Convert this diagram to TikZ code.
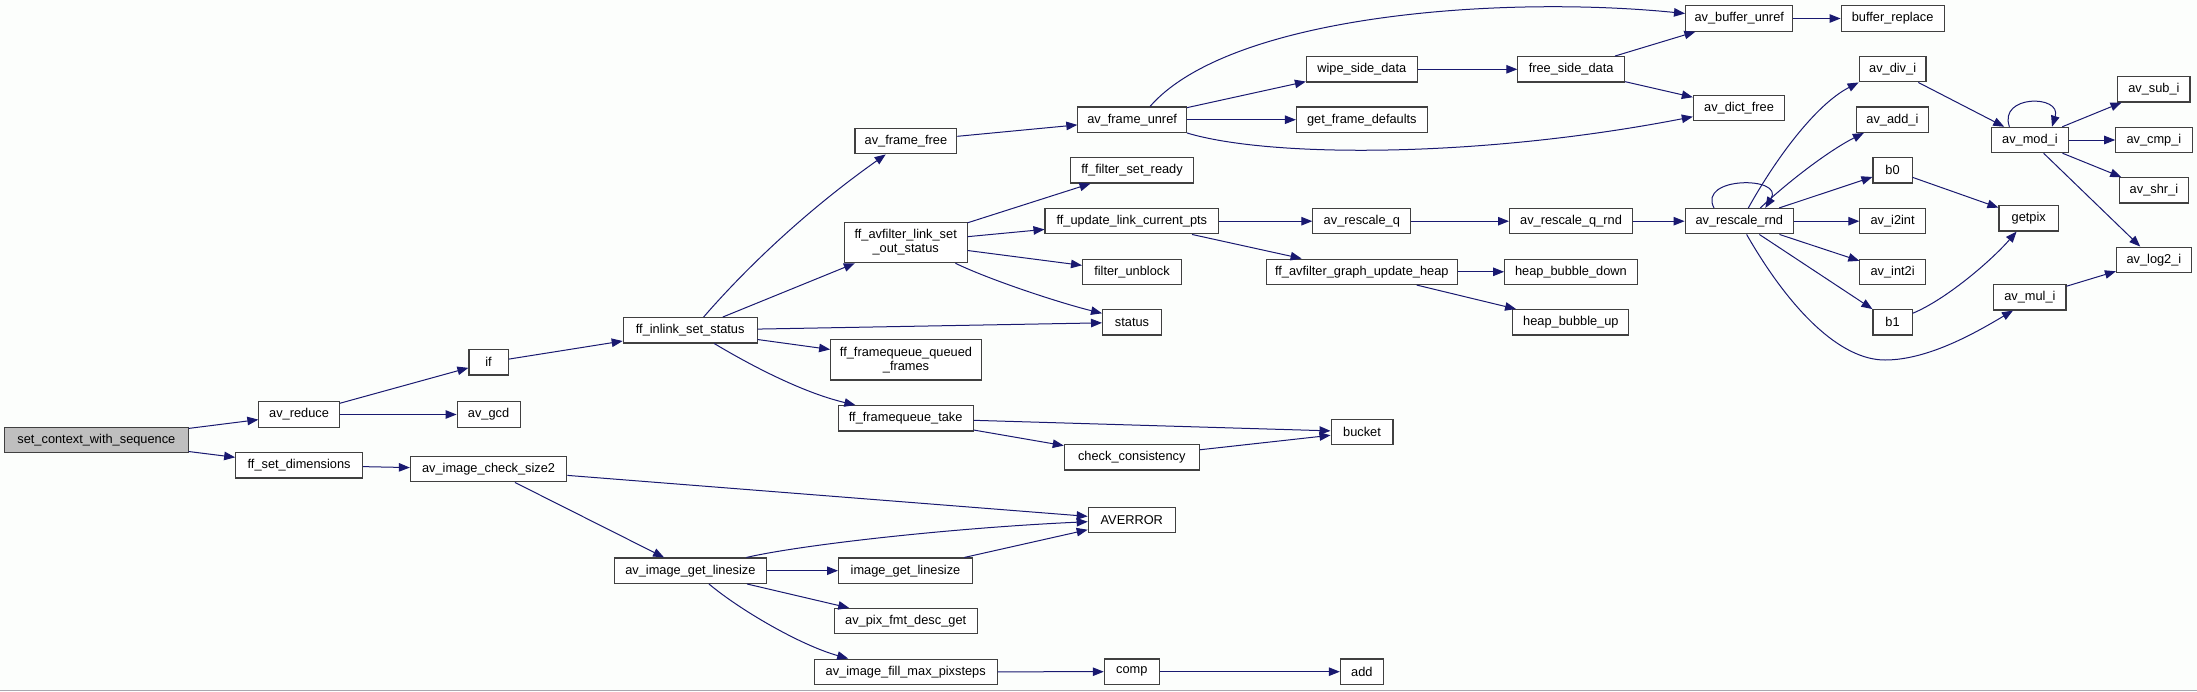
\documentclass[tikz,border=0pt]{standalone}
\usepackage{fontspec}
\newfontfamily\fnt{Liberation Sans}
\usetikzlibrary{arrows.meta}
\definecolor{edgec}{HTML}{191970}
\definecolor{nodeb}{HTML}{404040}
\definecolor{rootf}{HTML}{BFBFBF}
\definecolor{bgc}{HTML}{FCFEFC}
\definecolor{linec}{HTML}{A8A8B0}
\begin{document}
\begin{tikzpicture}[x=1pt,y=-1pt,
  fn/.style={draw=nodeb, line width=1.1pt, fill=white, inner sep=0pt, minimum height=25.4pt, align=center, font=\fnt\fontsize{12.8}{14}\selectfont},
  edge/.style={draw=edgec, line width=1pt, -{Triangle[length=11pt,width=8.5pt]}, shorten >=0pt}]
\useasboundingbox (0,0) rectangle (2197,691);
\fill[bgc] (0,0) rectangle (2197,691);
\draw[linec, line width=1.2pt] (0,690.4) -- (2197,690.4);

% nodes
\node[fn, fill=rootf, minimum width=183.6pt] (root) at (96.4,440) {set\_context\_with\_sequence};
\node[fn, minimum width=80.4pt] (avreduce) at (299.1,414.5) {av\_reduce};
\node[fn, minimum width=39.3pt] (if) at (488.6,362.3) {if};
\node[fn, minimum width=62.9pt] (avgcd) at (488.6,414.5) {av\_gcd};
\node[fn, minimum width=126.8pt] (ffsetdim) at (299.1,465.3) {ff\_set\_dimensions};
\node[fn, minimum width=156.4pt] (chk2) at (488.6,469.2) {av\_image\_check\_size2};
\node[fn, minimum width=133.9pt] (inlink) at (690.2,330.3) {ff\_inlink\_set\_status};
\node[fn, minimum width=101.8pt] (framefree) at (905.9,141.2) {av\_frame\_free};
\node[fn, minimum width=122.8pt, minimum height=40.4pt] (linkset) at (905.7,242.5) {ff\_avfilter\_link\_set\\\_out\_status};
\node[fn, minimum width=108.5pt] (frameunref) at (1132.1,119.7) {av\_frame\_unref};
\node[fn, minimum width=122.5pt] (setready) at (1132,170.3) {ff\_filter\_set\_ready};
\node[fn, minimum width=173.6pt] (updpts) at (1131.8,221.2) {ff\_update\_link\_current\_pts};
\node[fn, minimum width=98.9pt] (unblock) at (1132,271.8) {filter\_unblock};
\node[fn, minimum width=58.9pt] (status) at (1132,322.3) {status};
\node[fn, minimum width=150.7pt, minimum height=40.3pt] (queued) at (906,359.8) {ff\_framequeue\_queued\\\_frames};
\node[fn, minimum width=135pt] (take) at (905.7,418.3) {ff\_framequeue\_take};
\node[fn, minimum width=135pt] (consist) at (1131.8,457.3) {check\_consistency};
\node[fn, minimum width=87.2pt] (averror) at (1131.8,519.8) {AVERROR};
\node[fn, minimum width=152.1pt] (getls) at (690.4,570.7) {av\_image\_get\_linesize};
\node[fn, minimum width=133.9pt] (imgls) at (905.5,570.7) {image\_get\_linesize};
\node[fn, minimum width=142.8pt] (pixfmt) at (905.7,621.2) {av\_pix\_fmt\_desc\_get};
\node[fn, minimum width=182.8pt] (fillmax) at (905.7,671.8) {av\_image\_fill\_max\_pixsteps};
\node[fn, minimum width=55pt] (comp) at (1131.8,671.7) {comp};
\node[fn, minimum width=42.8pt] (add) at (1361.8,671.7) {add};
\node[fn, minimum width=61.9pt] (bucket) at (1362,431.8) {bucket};
\node[fn, minimum width=110.7pt] (wipe) at (1361.8,69.3) {wipe\_side\_data};
\node[fn, minimum width=130.7pt] (getdef) at (1361.8,119.7) {get\_frame\_defaults};
\node[fn, minimum width=106.4pt] (freeside) at (1571.1,69.3) {free\_side\_data};
\node[fn, minimum width=97.8pt] (rescaleq) at (1361.8,221.2) {av\_rescale\_q};
\node[fn, minimum width=122.9pt] (rescaleqrnd) at (1571,221.2) {av\_rescale\_q\_rnd};
\node[fn, minimum width=190.7pt] (heap) at (1361.8,271.8) {ff\_avfilter\_graph\_update\_heap};
\node[fn, minimum width=132.5pt] (hdown) at (1570.9,271.8) {heap\_bubble\_down};
\node[fn, minimum width=116pt] (hup) at (1570.9,322.3) {heap\_bubble\_up};
\node[fn, minimum width=107.3pt] (bufunref) at (1739.2,18.5) {av\_buffer\_unref};
\node[fn, minimum width=103pt] (bufrep) at (1892.6,18.5) {buffer\_replace};
\node[fn, minimum width=91.3pt] (dictfree) at (1739,107.8) {av\_dict\_free};
\node[fn, minimum width=66.8pt] (divi) at (1892.6,69.2) {av\_div\_i};
\node[fn, minimum width=72.2pt] (addi) at (1892.4,119.7) {av\_add\_i};
\node[fn, minimum width=39.1pt] (bzero) at (1892.5,170.3) {b0};
\node[fn, minimum width=65.4pt] (i2int) at (1892.6,221.2) {av\_i2int};
\node[fn, minimum width=65.4pt] (int2i) at (1892.6,271.8) {av\_int2i};
\node[fn, minimum width=39.1pt] (bone) at (1892.5,322.3) {b1};
\node[fn, minimum width=108.4pt] (rescalernd) at (1739.3,221.2) {av\_rescale\_rnd};
\node[fn, minimum width=76.4pt] (modi) at (2029.9,140) {av\_mod\_i};
\node[fn, minimum width=59.5pt] (getpix) at (2028.7,218.3) {getpix};
\node[fn, minimum width=72.1pt] (muli) at (2029.9,297.3) {av\_mul\_i};
\node[fn, minimum width=72.1pt] (subi) at (2153.9,89.3) {av\_sub\_i};
\node[fn, minimum width=76.3pt] (cmpi) at (2153.9,140) {av\_cmp\_i};
\node[fn, minimum width=69.3pt] (shri) at (2153.9,190.3) {av\_shr\_i};
\node[fn, minimum width=74.9pt] (log2i) at (2153.9,259.8) {av\_log2\_i};

% edges
\draw[edge] (root) -- (avreduce);
\draw[edge] (root) -- (ffsetdim);
\draw[edge] (avreduce) -- (if);
\draw[edge] (avreduce) -- (avgcd);
\draw[edge] (if) -- (inlink);
\draw[edge] ([xshift=13.4pt]inlink.north) .. controls (740,275) and (800,215) .. ([xshift=-20.2pt]framefree.south);
\draw[edge] (inlink) -- (linkset);
\draw[edge] (inlink) -- (status);
\draw[edge] (inlink) -- (queued);
\draw[edge] ([xshift=24.1pt]inlink.south) .. controls (745,362) and (800,392) .. ([xshift=-50.3pt]take.north);
\draw[edge] (framefree) -- (frameunref);
\draw[edge] ([xshift=17.9pt]frameunref.north) .. controls (1230,15) and (1500,-5) .. ([yshift=5pt]bufunref.west);
\draw[edge] (frameunref) -- (wipe);
\draw[edge] (frameunref) -- (getdef);
\draw[edge] (frameunref.south east) .. controls (1270,158) and (1480,158) .. ([yshift=-8.9pt]dictfree.west);
\draw[edge] (wipe) -- (freeside);
\draw[edge] (freeside) -- (bufunref);
\draw[edge] (freeside) -- (dictfree);
\draw[edge] (bufunref) -- (bufrep);
\draw[edge] (linkset) -- (setready);
\draw[edge] (linkset) -- (updpts);
\draw[edge] (linkset) -- (unblock);
\draw[edge] ([xshift=49.7pt]linkset.south) .. controls (990,280) and (1060,303) .. ([yshift=9pt]status.west);
\draw[edge] (updpts) -- (rescaleq);
\draw[edge] (updpts) -- (heap);
\draw[edge] (rescaleq) -- (rescaleqrnd);
\draw[edge] (rescaleqrnd) -- (rescalernd);
\draw[edge] (heap) -- (hdown);
\draw[edge] (heap) -- (hup);
\draw[edge] ([xshift=-25.3pt]rescalernd.north) .. controls (1697,176) and (1785,176) .. ([xshift=26pt]rescalernd.north);
\draw[edge] ([xshift=9pt]rescalernd.north) .. controls (1775,160) and (1815,105) .. (divi.south west);
\draw[edge] ([xshift=21pt]rescalernd.north) .. controls (1790,180) and (1830,150) .. ([xshift=-28.6pt]addi.south);
\draw[edge] (rescalernd) -- (bzero);
\draw[edge] (rescalernd) -- (i2int);
\draw[edge] (rescalernd) -- (int2i);
\draw[edge] (rescalernd) -- (bone);
\coordinate (lowpt) at (1885,360);
\draw[edge] ([xshift=7.3pt]rescalernd.south) .. controls (1790,310) and (1840,360) .. (lowpt) .. controls (1930,360) and (1980,330) .. ([xshift=-16.9pt]muli.south);
\draw[edge] (divi) -- (modi);
\draw[edge] ([xshift=-20.5pt]modi.north) .. controls (1998,94.5) and (2062,94.5) .. ([xshift=22.1pt]modi.north);
\draw[edge] (modi) -- (subi);
\draw[edge] (modi) -- (cmpi);
\draw[edge] (modi) -- (shri);
\draw[edge] (modi) -- (log2i);
\draw[edge] (bzero) -- (getpix);
\draw[edge] ([yshift=9pt]bone.east) .. controls (1945,300) and (1990,262) .. ([xshift=-12.1pt]getpix.south);
\draw[edge] (muli) -- (log2i);
\draw[edge] (take) -- (bucket);
\draw[edge] (take) -- (consist);
\draw[edge] (consist) -- (bucket);
\draw[edge] (ffsetdim) -- (chk2);
\draw[edge] (chk2) -- (averror);
\draw[edge] (chk2) -- (getls);
\draw[edge] ([xshift=56pt]getls.north) .. controls (800,545) and (950,528) .. ([yshift=-1.9pt]averror.west);
\draw[edge] (getls) -- (imgls);
\draw[edge] (getls) -- (pixfmt);
\draw[edge] ([xshift=18.5pt]getls.south) .. controls (740,610) and (800,645) .. ([xshift=-57.5pt]fillmax.north);
\draw[edge] (imgls) -- (averror);
\draw[edge] (fillmax) -- (comp);
\draw[edge] (comp) -- (add);
\end{tikzpicture}
\end{document}
